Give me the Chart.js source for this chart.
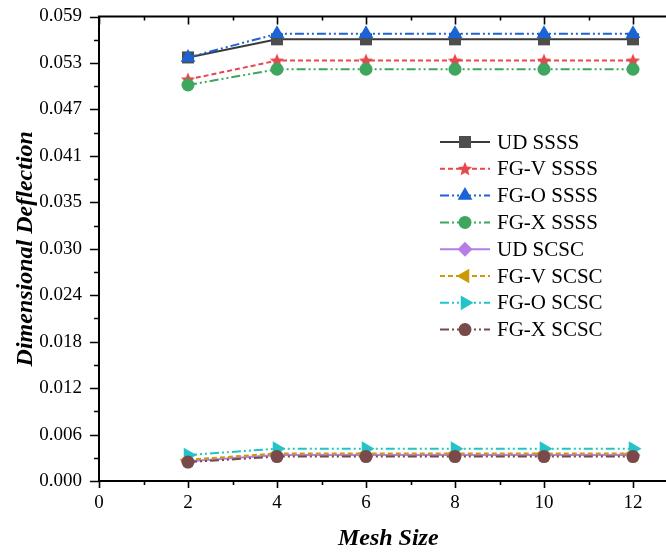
<!DOCTYPE html>
<html><head><meta charset="utf-8">
<script src="https://cdn.jsdelivr.net/npm/chart.js@4.4.1/dist/chart.umd.min.js"></script>
<style>
html,body{margin:0;padding:0;background:#fff;overflow:hidden;width:666px;height:554px;}
#wrap{position:relative;width:690px;height:554px;}
</style></head><body>
<div id="wrap"><canvas id="c" width="690" height="554"></canvas></div>
<script>
// ---- data ----
const meshSizes = [2, 4, 6, 8, 10, 12];
const udSSSS  = [0.0538, 0.0561, 0.0561, 0.0561, 0.0561, 0.0561];
const fgvSSSS = [0.0510, 0.0534, 0.0534, 0.0534, 0.0534, 0.0534];
const fgoSSSS = [0.0538, 0.0568, 0.0568, 0.0568, 0.0568, 0.0568];
const fgxSSSS = [0.0503, 0.0523, 0.0523, 0.0523, 0.0523, 0.0523];
const udSCSC  = [0.0025, 0.0033, 0.0033, 0.0033, 0.0033, 0.0033];
const fgvSCSC = [0.0027, 0.0035, 0.0035, 0.0035, 0.0035, 0.0035];
const fgoSCSC = [0.0033, 0.0041, 0.0041, 0.0041, 0.0041, 0.0041];
const fgxSCSC = [0.0024, 0.0031, 0.0031, 0.0031, 0.0031, 0.0031];
const seriesNames = ['UD SSSS','FG-V SSSS','FG-O SSSS','FG-X SSSS','UD SCSC','FG-V SCSC','FG-O SCSC','FG-X SCSC'];
const xTickValues = [0, 2, 4, 6, 8, 10, 12];
const yTickLabels = ['0.000','0.006','0.012','0.018','0.024','0.030','0.035','0.041','0.047','0.053','0.059'];
const yTickStep = 0.0059;
const xTitle = 'Mesh Size';
const yTitle = 'Dimensional Deflection';

// star marker image
function makeStar(color, size){
  const c = document.createElement('canvas');
  c.width = size; c.height = size;
  const g = c.getContext('2d');
  const cx = size/2, cy = size/2 + 0.5, R = size/2 - 0.5, r = R*0.45;
  g.beginPath();
  for (let i = 0; i < 10; i++){
    const rad = i % 2 ? r : R;
    const ang = -Math.PI/2 + i*Math.PI/5;
    const px = cx + rad*Math.cos(ang), py = cy + rad*Math.sin(ang);
    if (i === 0) g.moveTo(px, py); else g.lineTo(px, py);
  }
  g.closePath(); g.fillStyle = color; g.fill();
  return c;
}
const starImg = makeStar('#e5484d', 16);

const allSeries = [udSSSS, fgvSSSS, fgoSSSS, fgxSSSS, udSCSC, fgvSCSC, fgoSCSC, fgxSCSC];
const styles = [
  {line:'#3a3a3a', fill:'#4d4d4d', dash:[], ps:'rect', r:8.5, rot:0},
  {line:'#e5484d', fill:'#e5484d', dash:[5,3], ps:starImg, r:8, rot:0},
  {line:'#1c63d6', fill:'#1c63d6', dash:[9,3,2,3,2,3], ps:'triangle', r:8.5, rot:0},
  {line:'#3ea65e', fill:'#3ea65e', dash:[9,3,2,3,2,3], ps:'circle', r:6.5, rot:0},
  {line:'#b57ee6', fill:'#b57ee6', dash:[], ps:'rectRot', r:7.5, rot:0},
  {line:'#cc9a06', fill:'#cc9a06', dash:[5,3], ps:'triangle', r:8.5, rot:-90},
  {line:'#22c3c9', fill:'#22c3c9', dash:[9,3,2,3,2,3], ps:'triangle', r:8.5, rot:90},
  {line:'#7a4a4a', fill:'#7a4a4a', dash:[9,3,2,3,2,3], ps:'circle', r:6.5, rot:0}
];

const datasets = allSeries.map((vals, i) => ({
  label: seriesNames[i],
  data: meshSizes.map((m, k) => ({x: m, y: vals[k]})),
  borderColor: styles[i].line,
  backgroundColor: styles[i].fill,
  borderWidth: 2,
  borderDash: styles[i].dash,
  pointStyle: styles[i].ps,
  pointRadius: styles[i].r,
  pointRotation: styles[i].rot,
  pointBackgroundColor: styles[i].fill,
  pointBorderColor: styles[i].fill,
  pointBorderWidth: 0,
  tension: 0,
  clip: false,
  order: allSeries.length - i
}));

function drawMarker(ctx, st, x, y){
  if (Chart.helpers && Chart.helpers.drawPoint){
    ctx.fillStyle = st.fill; ctx.strokeStyle = st.fill; ctx.lineWidth = 0;
    ctx.setLineDash([]);
    Chart.helpers.drawPoint(ctx, {pointStyle: st.ps, rotation: st.rot, radius: st.r, borderWidth: 0}, x, y);
  }
}

const legendPlugin = {
  id: 'customLegend',
  afterDraw(chart){
    const ctx = chart.ctx;
    ctx.save();
    const x0 = 440, x1 = 490, tx = 497, y0 = 142, dy = 26.8;
    ctx.font = '21px "Liberation Serif", "Times New Roman", serif';
    ctx.textBaseline = 'middle';
    seriesNames.forEach((name, i) => {
      const st = styles[i];
      const y = y0 + i*dy;
      ctx.strokeStyle = st.line; ctx.lineWidth = 2; ctx.setLineDash(st.dash);
      ctx.beginPath(); ctx.moveTo(x0, y); ctx.lineTo(x1, y); ctx.stroke();
      ctx.setLineDash([]);
      drawMarker(ctx, st, (x0 + x1)/2, y);
      ctx.fillStyle = '#000';
      ctx.fillText(name, tx, y + 1);
    });
    ctx.restore();
  }
};

const axisTicksPlugin = {
  id: 'axisTicks',
  afterDraw(chart){
    const {ctx, chartArea: a, scales: {x, y}} = chart;
    ctx.save();
    ctx.strokeStyle = '#000'; ctx.setLineDash([]);
    ctx.lineWidth = 2;
    ctx.beginPath(); ctx.moveTo(a.left - 1, a.top); ctx.lineTo(a.right, a.top); ctx.stroke();
    ctx.lineWidth = 1.6;
    ctx.beginPath();
    for (let v = 0; v <= 13; v++){
      const px = Math.round(x.getPixelForValue(v)) + 0.5;
      const major = v % 2 === 0;
      ctx.moveTo(px, a.bottom); ctx.lineTo(px, a.bottom + (major ? 7 : 4));
      ctx.moveTo(px, a.top); ctx.lineTo(px, a.top + (major ? 8 : 4));
    }
    for (let i = 0; i <= 20; i++){
      const py = Math.round(y.getPixelForValue(i * yTickStep / 2)) + 0.5;
      const len = i % 2 ? 5 : 9;
      ctx.moveTo(a.left, py); ctx.lineTo(a.left - len, py);
    }
    ctx.stroke();
    ctx.restore();
  }
};

const serif = '"Liberation Serif", "Times New Roman", serif';
new Chart(document.getElementById('c'), {
  type: 'line',
  data: {datasets},
  plugins: [axisTicksPlugin, legendPlugin],
  options: {
    responsive: false, animation: false, devicePixelRatio: 1,
    layout: {padding: {left: 0, right: 12.5, top: 16.5, bottom: 0}},
    plugins: {legend: {display: false}, tooltip: {enabled: false}},
    scales: {
      x: {
        type: 'linear', min: 0, max: 13,
        grid: {display: false, drawTicks: false},
        border: {display: true, color: '#000', width: 2},
        afterBuildTicks: s => { s.ticks = xTickValues.map(v => ({value: v})); },
        afterFit: s => { s.height = 73; s.paddingLeft = 0; s.paddingRight = 0; },
        ticks: {color: '#000', padding: 11, font: {family: serif, size: 19}, maxRotation: 0,
          callback: v => String(v)},
        title: {display: true, text: xTitle, color: '#000', padding: {top: 0, bottom: 1},
          font: {family: serif, size: 24, weight: 'bold', style: 'italic'}}
      },
      y: {
        type: 'linear', min: 0, max: 0.059,
        grid: {display: false, drawTicks: false},
        border: {display: true, color: '#000', width: 2},
        afterBuildTicks: s => { s.ticks = yTickLabels.map((l, i) => ({value: i * yTickStep})); },
        afterFit: s => { s.width = 99; s.paddingTop = 0; s.paddingBottom = 0; },
        ticks: {color: '#000', padding: 17, font: {family: serif, size: 19},
          callback: (v, i) => yTickLabels[i]},
        title: {display: true, text: yTitle, color: '#000', padding: {top: 11, bottom: 0},
          font: {family: serif, size: 24, weight: 'bold', style: 'italic'}}
      }
    }
  }
});
</script>
</body></html>
